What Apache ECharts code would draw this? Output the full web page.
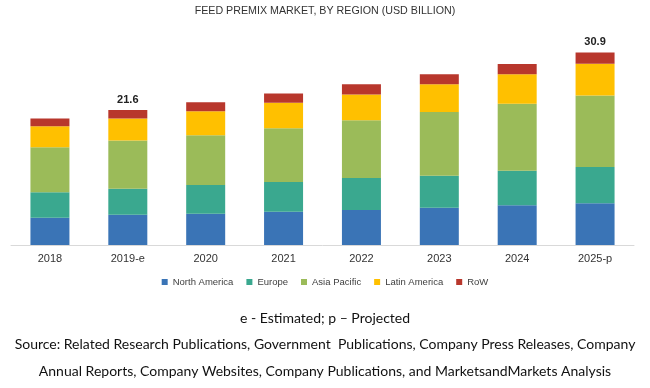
<!DOCTYPE html>
<html><head><meta charset="utf-8">
<script src="https://cdn.jsdelivr.net/npm/echarts@6/dist/echarts.min.js"></script>
<style>html,body{margin:0;padding:0;background:#fff}#c{width:650px;height:388px}</style>
</head><body><div id="c"></div>
<script>
const categories = ['2018','2019-e','2020','2021','2022','2023','2024','2025-p'];
const northAmerica = [4.38,4.86,5.02,5.34,5.61,5.98,6.37,6.69];
const europe       = [4.07,4.17,4.60,4.76,5.13,5.13,5.55,5.82];
const asiaPacific  = [7.26,7.76,8.02,8.66,9.30,10.26,10.74,11.50];
const latinAmerica = [3.37,3.53,3.85,4.06,4.12,4.44,4.76,5.07];
const row          = [1.23,1.35,1.44,1.51,1.65,1.60,1.65,1.83];
const totalLabels  = ['', '21.6', '', '', '', '', '', '30.9'];

const names = ['North America','Europe','Asia Pacific','Latin America','RoW'];
const colors = ['#3A74B6','#3AA88F','#9BBB59','#FFC000','#B8372C'];
const dataSets = [northAmerica, europe, asiaPacific, latinAmerica, row];

const series = dataSets.map((d,i)=>({
  name: names[i], type:'bar', stack:'total', barWidth:39, data:d,
  itemStyle:{color:colors[i]},
  label: i===4 ? {show:true, position:'top', distance:5, color:'#222', fontWeight:'bold',
    fontFamily:'Liberation Sans', fontSize:11,
    formatter:p=>totalLabels[p.dataIndex]} : {show:false}
}));

const chart = echarts.init(document.getElementById('c'));
chart.setOption({
  animation:false,
  title:[
    {text:'FEED PREMIX MARKET, BY REGION (USD BILLION)', left:'center', top:1,
     textStyle:{fontFamily:'Liberation Sans', fontWeight:'normal', fontSize:10.7, color:'#333'}},
    {text:'e - Estimated; p \u2013 Projected', left:'center', top:306,
     textStyle:{fontFamily:'Lato', fontWeight:'normal', fontSize:14, color:'#111'}},
    {text:'Source: Related Research Publications, Government  Publications, Company Press Releases, Company', left:'center', top:332,
     textStyle:{fontFamily:'Lato', fontWeight:'normal', fontSize:14, color:'#111'}},
    {text:'Annual Reports, Company Websites, Company Publications, and MarketsandMarkets Analysis', left:'center', top:359,
     textStyle:{fontFamily:'Lato', fontWeight:'normal', fontSize:14, color:'#111'}}
  ],
  legend:{data:names, top:272, left:'center', itemWidth:6, itemHeight:6, itemGap:13, icon:'rect',
    textStyle:{fontFamily:'Liberation Sans', fontSize:9.5, color:'#404040'}},
  grid:{left:11, right:16, top:27, bottom:143},
  xAxis:{type:'category', data:categories,
    axisLine:{lineStyle:{color:'#d9d9d9'}}, axisTick:{show:false},
    axisLabel:{color:'#333', fontFamily:'Liberation Sans', fontSize:11, margin:8}},
  yAxis:{type:'value', min:0, max:35, show:false, splitLine:{show:false}},
  series:series
});
</script></body></html>
